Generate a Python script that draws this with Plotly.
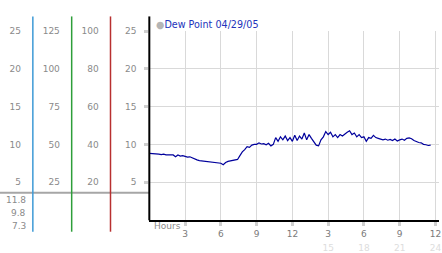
import plotly.graph_objects as go

W, H = 442, 253

hours = [0.0, 0.2, 0.4, 0.6, 0.8, 1.0, 1.2, 1.4, 1.6, 1.8,
         2.0, 2.2, 2.4, 2.6, 2.8, 3.0, 3.2, 3.4, 3.6, 3.8,
         4.0, 4.2, 4.4, 4.6, 4.8, 5.0, 5.2, 5.4, 5.6, 5.8,
         6.0, 6.2, 6.4, 6.6, 6.8, 7.0, 7.2, 7.4, 7.6, 7.8,
         8.0, 8.2, 8.4, 8.6, 8.8, 9.0, 9.2, 9.4, 9.6, 9.8,
         10.0, 10.2, 10.4, 10.6, 10.8, 11.0, 11.2, 11.4, 11.6, 11.8,
         12.0, 12.2, 12.4, 12.6, 12.8, 13.0, 13.2, 13.4, 13.6, 13.8,
         14.0, 14.2, 14.4, 14.6, 14.8, 15.0, 15.2, 15.4, 15.6, 15.8,
         16.0, 16.2, 16.4, 16.6, 16.8, 17.0, 17.2, 17.4, 17.6, 17.8,
         18.0, 18.2, 18.4, 18.6, 18.8, 19.0, 19.2, 19.4, 19.6, 19.8,
         20.0, 20.2, 20.4, 20.6, 20.8, 21.0, 21.2, 21.4, 21.6, 21.8,
         22.0, 22.2, 22.4, 22.6, 22.8, 23.0, 23.2, 23.4, 23.6]
dew_point = [8.8, 8.8, 8.75, 8.8, 8.7, 8.65, 8.7, 8.6, 8.6, 8.55,
             8.6, 8.35, 8.6, 8.45, 8.5, 8.4, 8.3, 8.35, 8.2, 8.0,
             7.95, 7.85, 7.8, 7.75, 7.8, 7.75, 7.7, 7.6, 7.6, 7.55,
             7.5, 7.3, 7.6, 7.75, 7.8, 7.8, 7.85, 8.0, 8.5, 9.0,
             9.3, 9.7, 9.6, 9.9, 10.0, 10.0, 10.2, 10.05, 10.1, 9.95,
             10.15, 9.8, 10.0, 10.9, 10.4, 11.0, 10.6, 11.1, 10.5, 10.9,
             10.4, 11.2, 10.5, 11.1, 10.7, 11.5, 10.6, 11.3, 10.8, 10.3,
             9.9, 9.8, 10.6, 11.0, 11.7, 11.3, 11.6, 11.0, 11.3, 10.9,
             11.3, 11.1, 11.4, 11.6, 11.8, 11.3, 11.5, 11.0, 11.3, 10.9,
             11.0, 10.4, 10.9, 10.8, 11.2, 10.9, 10.8, 10.7, 10.6, 10.7,
             10.55, 10.65, 10.5, 10.7, 10.45, 10.6, 10.7, 10.55, 10.8, 10.85,
             10.75, 10.5, 10.35, 10.25, 10.2, 10.0, 9.95, 9.85, 9.9]

series_name = "Dew Point 04/29/05"
y_ticks = [5, 10, 15, 20, 25]
col1_ticks = [5, 10, 15, 20, 25]
col2_ticks = [25, 50, 75, 100, 125]
col3_ticks = [20, 40, 60, 80, 100]
x_ticks = [3, 6, 9, 12, 15, 18, 21, 24]
x_labels = ["3", "6", "9", "12", "3", "6", "9", "12"]
x2_ticks = [15, 18, 21, 24]
x2_labels = ["15", "18", "21", "24"]
stats_labels = ["11.8", "9.8", "7.3"]

FONT = "DejaVu Sans"
GRAY = "#8a8a8a"

def px(x):
    return x / W

def py(y):
    return 1 - y / H

fig = go.Figure()
fig.add_trace(go.Scatter(x=hours, y=dew_point, mode="lines",
                         line=dict(color="#00009c", width=1.2),
                         showlegend=False, hoverinfo="skip"))
# empty traces so that the extra scale axes get drawn
for xa, ya in [("x2", "y"), ("x", "y2"), ("x", "y3"), ("x", "y4")]:
    fig.add_trace(go.Scatter(x=[None], y=[None], xaxis=xa, yaxis=ya, mode="lines",
                             showlegend=False, hoverinfo="skip"))

x_dom = [px(150), px(441)]
y_dom = [py(225.5), py(27.5)]

axis_common = dict(showgrid=False, zeroline=False, showline=False,
                   tickfont=dict(family=FONT, size=9, color=GRAY),
                   ticks="outside", ticklen=10, tickcolor="rgba(0,0,0,0)")

layout = dict(
    width=W, height=H, margin=dict(l=0, r=0, t=0, b=0),
    paper_bgcolor="white", plot_bgcolor="white",
    showlegend=False,
    xaxis=dict(domain=x_dom, range=[0, 24.3], tickvals=x_ticks, ticktext=x_labels,
               showgrid=True, gridcolor="#d9d9d9", gridwidth=1, zeroline=False,
               showline=True, linecolor="black", linewidth=2,
               ticks="outside", ticklen=4, tickwidth=3, tickcolor="#cfcfcf",
               ticklabeloverflow="allow",
               tickfont=dict(family=FONT, size=9, color="#7a7a7a")),
    xaxis2=dict(domain=x_dom, range=[0, 24.3], overlaying="x", anchor="free",
                position=py(248), tickvals=x2_ticks, ticktext=x2_labels,
                showgrid=False, zeroline=False, showline=False, ticks="",
                ticklabeloverflow="allow",
                tickfont=dict(family=FONT, size=9, color="#dddddd")),
    yaxis=dict(domain=y_dom, range=[0, 25], tickvals=y_ticks,
               showgrid=True, gridcolor="#d9d9d9", gridwidth=1, zeroline=False,
               showline=False,
               ticks="outside", ticklen=4, tickwidth=3, tickcolor="#cfcfcf",
               ticklabelstandoff=6,
               tickfont=dict(family=FONT, size=9, color=GRAY)),
    yaxis2=dict(domain=y_dom, range=[0, 25], overlaying="y", anchor="free",
                position=px(33), side="left", tickvals=col1_ticks, **axis_common),
    yaxis3=dict(domain=y_dom, range=[0, 125], overlaying="y", anchor="free",
                position=px(72), side="left", tickvals=col2_ticks, **axis_common),
    yaxis4=dict(domain=y_dom, range=[0, 100], overlaying="y", anchor="free",
                position=px(111), side="left", tickvals=col3_ticks, **axis_common),
)
fig.update_layout(**layout)

# decorative lines
shapes = [
    dict(type="line", xref="paper", yref="paper", x0=px(0), x1=px(150), y0=py(197), y1=py(197),
         line=dict(color="#a6a6a6", width=2)),
    dict(type="line", xref="paper", yref="paper", x0=px(33), x1=px(33), y0=py(12), y1=py(238),
         line=dict(color="#3d9ad6", width=1.5)),
    dict(type="line", xref="paper", yref="paper", x0=px(72), x1=px(72), y0=py(12), y1=py(238),
         line=dict(color="#2e9e3a", width=1.5)),
    dict(type="line", xref="paper", yref="paper", x0=px(111), x1=px(111), y0=py(12), y1=py(238),
         line=dict(color="#b83030", width=1.5)),
    dict(type="line", xref="paper", yref="paper", x0=px(150), x1=px(150), y0=py(12), y1=py(226),
         line=dict(color="black", width=2)),
]
for s in shapes:
    fig.add_shape(**s)

# stats labels
for i, lab in enumerate(stats_labels):
    fig.add_annotation(x=px(28), y=py(205 + i * 13.3), xref="paper", yref="paper",
                       text=lab, showarrow=False, xanchor="right", yanchor="middle",
                       font=dict(family=FONT, size=9, color=GRAY))

# legend-like title
fig.add_annotation(x=px(155), y=py(20.5), xref="paper", yref="paper",
                   text="<span style='color:#b5b5b5'>●</span>" + series_name,
                   showarrow=False, xanchor="left", yanchor="middle",
                   font=dict(family=FONT, size=9.6, color="#2233bb"))

fig.add_annotation(x=px(153), y=py(232), xref="paper", yref="paper",
                   text="Hours", showarrow=False, xanchor="left", yanchor="middle",
                   font=dict(family=FONT, size=9, color=GRAY))

fig.write_html("out.html")
